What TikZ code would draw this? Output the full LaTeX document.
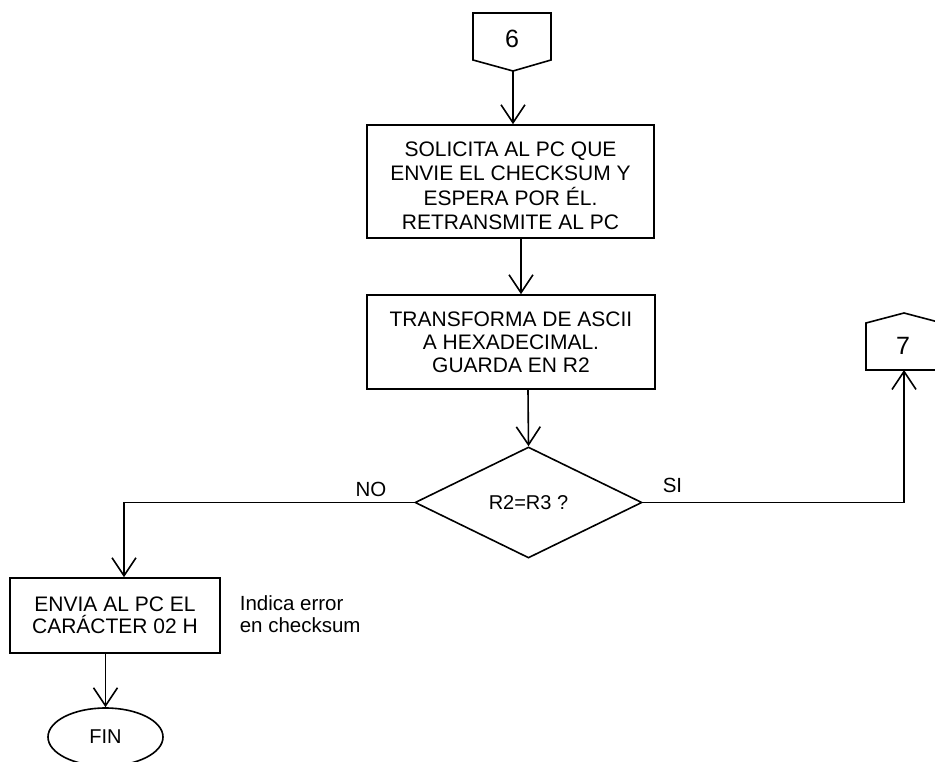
\documentclass[tikz,border=0pt]{standalone}
\usepackage{fontspec}
\setmainfont{Liberation Sans}
\usetikzlibrary{arrows.meta,shapes.geometric}
\begin{document}
\begin{tikzpicture}[x=1pt,y=-1pt,
  line width=1.6pt,
  arr/.style={-{Straight Barb[length=18pt,width=24pt,line width=1.6pt]}},
  procbox/.style={draw,rectangle,inner sep=0pt,align=center,font=\fontsize{21}{24}\selectfont},
  lbl/.style={inner sep=0pt,font=\fontsize{20.5}{23}\selectfont}]
\useasboundingbox (0,0) rectangle (935,762);

% off-page connector 6
\draw (473,13) -- (551,13) -- (551,60) -- (513,71) -- (473,60) -- cycle;
\coordinate (c6tip) at (513,71);
\node[inner sep=0pt,font=\fontsize{25}{25}\selectfont] (c6) at (512,39) {6};

% box 1
\node[procbox,minimum width=287pt,minimum height=113pt] (b1) at (510.5,181.5) {};
\node[inner sep=0pt,align=center,font=\fontsize{21}{24.5}\selectfont] (b1t) at (510.5,186)
  {SOLICITA AL PC QUE\\ENVIE EL CHECKSUM Y\\ESPERA POR ÉL.\\RETRANSMITE AL PC};

% box 2
\node[procbox,minimum width=288pt,minimum height=94pt,font=\fontsize{21}{23}\selectfont] (b2) at (511,342)
  {TRANSFORMA DE ASCII\\A HEXADECIMAL.\\GUARDA EN R2};

% decision
\node[diamond,draw,inner sep=0pt,minimum width=227pt,minimum height=111pt,
      font=\fontsize{20}{22}\selectfont] (d) at (528.5,502.5) {R2=R3 ?};

% box 3
\node[procbox,minimum width=210pt,minimum height=75pt,font=\fontsize{21}{22}\selectfont] (b3) at (115,615.5)
  {ENVIA AL PC EL\\CARÁCTER 02 H};

% end
\node[ellipse,draw,inner sep=0pt,minimum width=115pt,minimum height=58pt,
      font=\fontsize{20}{20}\selectfont] (fin) at (105.5,737) {FIN};

% off-page connector 7
\draw (866,370) -- (866,323) -- (904,313) -- (942,323) -- (942,370) -- cycle;
\node[inner sep=0pt,font=\fontsize{25}{25}\selectfont] (c7) at (903,346) {7};
\coordinate (c7b) at (904,370);

% labels
\node[lbl,align=left,anchor=north west,font=\fontsize{20.5}{22}\selectfont] (note) at (239,595) {Indica error\\en checksum};
\node[lbl] (no) at (371,489) {NO};
\node[lbl] (si) at (672.5,485.5) {SI};

% connectors
\draw[arr] (c6tip) -- (c6tip |- b1.north);
\draw[arr] ([xshift=10.5pt]b1.south) -- ([xshift=10.5pt]b1.south |- b2.north);
\draw[arr] ([xshift=17pt]b2.south) -- (d.north);
\coordinate (nocorner) at (124,502.5);
\draw[arr] (d.west) -- (nocorner) -- (nocorner |- b3.north);
\draw[arr] ([xshift=-9.5pt]b3.south) -- ([xshift=-9.5pt]b3.south |- fin.north);
\coordinate (sicorner) at (904,502.5);
\draw[arr] (d.east) -- (sicorner) -- (c7b);
\end{tikzpicture}
\end{document}
